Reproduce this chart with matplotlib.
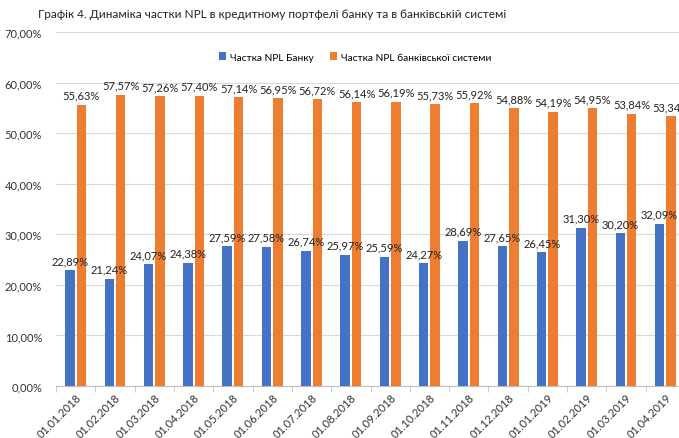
import matplotlib
matplotlib.use("Agg")
import matplotlib.pyplot as plt
import numpy as np

dates = ["01.01.2018", "01.02.2018", "01.03.2018", "01.04.2018", "01.05.2018", "01.06.2018",
         "01.07.2018", "01.08.2018", "01.09.2018", "01.10.2018", "01.11.2018", "01.12.2018",
         "01.01.2019", "01.02.2019", "01.03.2019", "01.04.2019"]
bank = [22.89, 21.24, 24.07, 24.38, 27.59, 27.58, 26.74, 25.97, 25.59, 24.27, 28.69, 27.65,
        26.45, 31.30, 30.20, 32.09]
system = [55.63, 57.57, 57.26, 57.40, 57.14, 56.95, 56.72, 56.14, 56.19, 55.73, 55.92, 54.88,
          54.19, 54.95, 53.84, 53.34]

plt.rcParams['font.family'] = ['Lato', 'DejaVu Sans']

W, H = 679, 439
fig = plt.figure(figsize=(W / 100, H / 100), dpi=100)
ax = fig.add_axes([56 / W, 1 - 387 / H, (685 - 56) / W, (387 - 33) / H])

x = np.arange(len(dates))
bw = 0.24
off = 0.145
ax.bar(x - off, bank, bw, color="#4472C4", label="Частка NPL Банку", zorder=3)
ax.bar(x + off, system, bw, color="#ED7D31", label="Частка NPL банківської системи", zorder=3)

def fmt(v):
    return f"{v:.2f}%".replace(".", ",")

for xi, v in zip(x, bank):
    ax.text(xi - off, v + 0.8, fmt(v), ha="center", va="bottom", fontsize=8, color="#222222")
for xi, v in zip(x, system):
    ax.text(xi + off, v + 0.8, fmt(v), ha="center", va="bottom", fontsize=8, color="#222222")

ax.set_xlim(-0.5, len(dates) - 0.5)
ax.set_ylim(0, 70)
yt = np.arange(0, 71, 10)
ax.set_yticks(yt)
ax.set_yticklabels([fmt(float(t)) for t in yt], fontsize=8, color="#333333")
ax.set_xticks(x)
ax.set_xticklabels(dates, rotation=45, ha="right", rotation_mode="anchor", fontsize=8, color="#333333")
ax.set_xticks(np.arange(-0.5, len(dates), 1), minor=True)
ax.tick_params(axis="x", which="major", length=0, pad=4)
ax.tick_params(axis="x", which="minor", length=4, color="#BFBFBF")
ax.tick_params(axis="y", length=0, pad=10)
ax.grid(axis="y", color="#D9D9D9", linewidth=0.8, zorder=0)
for s in ["top", "right", "left"]:
    ax.spines[s].set_visible(False)
ax.spines["bottom"].set_color("#BFBFBF")

fig.text(38 / W, 1 - 15 / H, "Графік 4. Динаміка частки NPL в кредитному портфелі банку та в банківській системі",
         fontsize=8.5, ha="left", va="center", color="#222222")
fig.legend(loc="center", bbox_to_anchor=(355 / W, 1 - 58 / H), ncol=2, frameon=False,
           fontsize=7.3, handlelength=0.7, handleheight=0.7, columnspacing=1.6, handletextpad=0.4)

fig.savefig("out.png", dpi=100)
